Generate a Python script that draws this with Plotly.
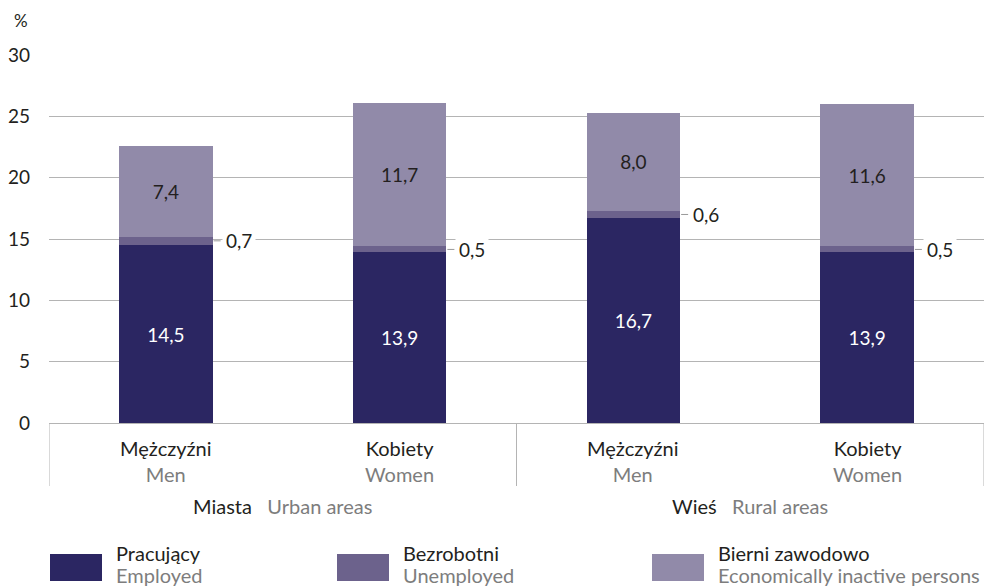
import plotly.graph_objects as go

# ---- data ----
categories_pl = ["Mężczyźni", "Kobiety", "Mężczyźni", "Kobiety"]
categories_en = ["Men", "Women", "Men", "Women"]
groups_pl = ["Miasta", "Wieś"]
groups_en = ["Urban areas", "Rural areas"]
employed = [14.5, 13.9, 16.7, 13.9]
unemployed = [0.7, 0.5, 0.6, 0.5]
inactive = [7.4, 11.7, 8.0, 11.6]
series_pl = ["Pracujący", "Bezrobotni", "Bierni zawodowo"]
series_en = ["Employed", "Unemployed", "Economically inactive persons"]
y_ticks = [0, 5, 10, 15, 20, 25, 30]

# ---- styling ----
W, H = 985, 588
L, R, T, B = 49, 1, 55, 165
PW, PH = W - L - R, H - T - B
FONT = "Lato"
FS = 20
DARK = "#231f20"
GREY = "#7d7d7d"
GRID = "#b4b4b4"
colors = ["#2b2662", "#6c628c", "#918aa9"]
BW = 0.4


def px2x(px):
    return (px - L) / PW


def py2y(py):
    return (H - B - py) / PH


def fmt(v):
    return f"{v:.1f}".replace(".", ",")


xs = list(range(len(categories_pl)))
fig = go.Figure()

fig.add_trace(go.Bar(
    x=xs, y=employed, width=BW, marker=dict(color=colors[0], line=dict(width=0)),
    text=[fmt(v) for v in employed], textposition="inside", insidetextanchor="middle",
    textangle=0, constraintext="none",
    textfont=dict(family=FONT, size=FS - 1, color="white"), hoverinfo="skip", name=series_en[0]))
fig.add_trace(go.Bar(
    x=xs, y=unemployed, width=BW, marker=dict(color=colors[1], line=dict(width=0)),
    hoverinfo="skip", name=series_en[1]))
fig.add_trace(go.Bar(
    x=xs, y=inactive, width=BW, marker=dict(color=colors[2], line=dict(width=0)),
    text=[fmt(v) for v in inactive], textposition="inside", insidetextanchor="middle",
    textangle=0, constraintext="none",
    textfont=dict(family=FONT, size=FS - 1, color=DARK), hoverinfo="skip", name=series_en[2]))

shapes = []
annotations = []

# unemployed outside labels with leader lines
for i, (e, u) in enumerate(zip(employed, unemployed)):
    yc = e + u / 2
    shapes.append(dict(type="line", xref="x", yref="y", xsizemode="pixel",
                       xanchor=i + BW / 2, x0=1, x1=8, y0=yc, y1=yc,
                       line=dict(color="#9a9a9a", width=1), layer="above"))
    annotations.append(dict(x=i + BW / 2, y=yc, xref="x", yref="y", xanchor="left",
                            yanchor="middle", xshift=9, showarrow=False,
                            text=fmt(u), bgcolor="white", borderpad=3,
                            font=dict(family=FONT, size=FS - 1, color=DARK)))

# category labels
for i, (pl, en) in enumerate(zip(categories_pl, categories_en)):
    annotations.append(dict(x=i, y=py2y(434), xref="x", yref="paper", xanchor="center",
                            yanchor="top", showarrow=False,
                            text=f"{pl}<br><span style='color:{GREY}'>{en}</span>",
                            font=dict(family=FONT, size=FS, color=DARK)))

# group labels
for g, (pl, en) in enumerate(zip(groups_pl, groups_en)):
    annotations.append(dict(x=2 * g + 0.5, y=py2y(506), xref="x", yref="paper",
                            xanchor="center", yanchor="middle", showarrow=False,
                            text=f"{pl}&nbsp;&nbsp;&nbsp;<span style='color:{GREY}'>{en}</span>",
                            font=dict(family=FONT, size=FS, color=DARK)))

# separators below axis
for sx in [-0.5, 1.5, 3.5]:
    shapes.append(dict(type="line", xref="x", yref="paper", x0=sx, x1=sx,
                       y0=0, y1=py2y(486), line=dict(color=GRID, width=1)))

# percent sign
annotations.append(dict(x=px2x(21), y=py2y(20), xref="paper", yref="paper",
                        xanchor="center", yanchor="middle", showarrow=False, text="%",
                        font=dict(family=FONT, size=FS - 3, color=DARK)))

# custom legend
leg_x = [50, 337, 652]
for k in range(3):
    x0 = leg_x[k]
    shapes.append(dict(type="rect", xref="paper", yref="paper",
                       x0=px2x(x0), x1=px2x(x0 + 52), y0=py2y(554), y1=py2y(581),
                       fillcolor=colors[k], line=dict(width=0)))
    annotations.append(dict(x=px2x(x0 + 64), y=py2y(553), xref="paper", yref="paper",
                            xanchor="left", yanchor="middle", showarrow=False,
                            text=series_pl[k], font=dict(family=FONT, size=FS, color=DARK)))
    annotations.append(dict(x=px2x(x0 + 64), y=py2y(575), xref="paper", yref="paper",
                            xanchor="left", yanchor="middle", showarrow=False,
                            text=series_en[k], font=dict(family=FONT, size=FS, color=GREY)))

fig.update_layout(
    width=W, height=H, margin=dict(l=L, r=R, t=T, b=B, pad=0),
    barmode="stack", showlegend=False,
    plot_bgcolor="white", paper_bgcolor="white",
    font=dict(family=FONT, size=FS, color=DARK),
    xaxis=dict(range=[-0.5, 3.5], showticklabels=False, showgrid=False, zeroline=False,
               showline=True, linecolor=GRID, linewidth=1, ticks="", fixedrange=True),
    yaxis=dict(range=[0, 30], tickvals=y_ticks, ticktext=[str(v) for v in y_ticks],
               showgrid=True, gridcolor=GRID, gridwidth=1, zeroline=False, showline=False,
               ticks="", ticklabelstandoff=18,
               tickfont=dict(family=FONT, size=FS - 1, color=DARK), fixedrange=True),
    shapes=shapes, annotations=annotations,
)

fig.write_html(
    "out.html",
    config={"displayModeBar": False},
    post_script="document.body.style.margin='0px';document.body.style.overflow='hidden';",
)
